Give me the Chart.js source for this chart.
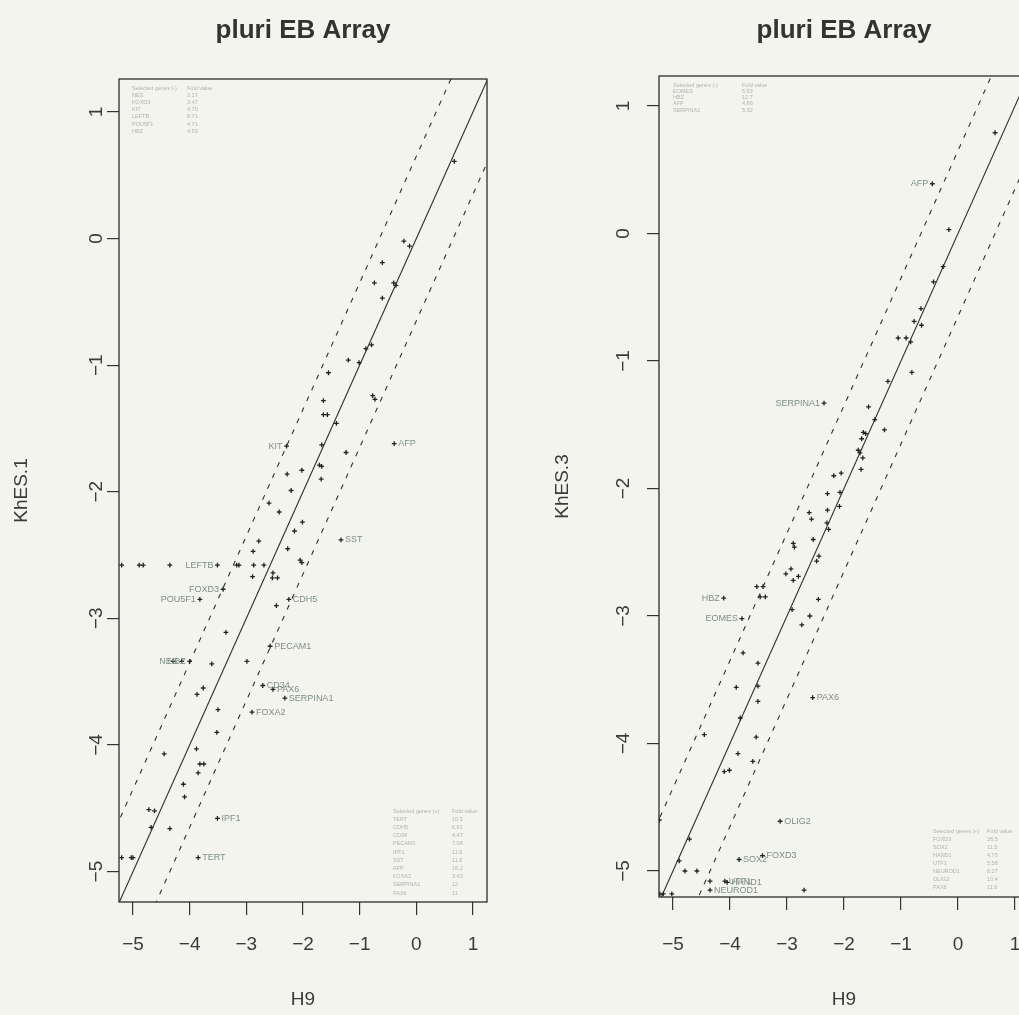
<!DOCTYPE html>
<html>
<head>
<meta charset="utf-8">
<script src="https://cdn.jsdelivr.net/npm/chart.js@4.4.0/dist/chart.umd.min.js"></script>
<style>
html, body { margin: 0; padding: 0; background: #f4f4ef; width: 1019px; height: 1015px; overflow: hidden; }
#left { position: absolute; left: 0; top: 0; }
#right { position: absolute; left: 510px; top: 0; }
</style>
</head>
<body>
<canvas id="left" width="510" height="1015"></canvas>
<canvas id="right" width="530" height="1015"></canvas>
<script>
const xTicks = [-5, -4, -3, -2, -1, 0, 1];
const yTicks = [-5, -4, -3, -2, -1, 0, 1];
const diagEnds = [-6, 2];
const foldBand = 0.65;

// left panel: KhES.1 against H9
const h9_1 = [0.67, -0.22, -0.12, -0.6, -0.74, -0.4, -0.36, -0.6, -0.79, -0.89, -1.2, -1.01, -1.55, -1.64,
  -0.77, -0.73, -1.64, -1.57, -1.41, -1.67, -1.24, -1.71, -1.67, -2.02, -2.28, -1.68, -2.21, -2.6, -2.42,
  -2.01, -2.15, -2.78, -2.88, -2.27, -2.05, -2.02, -5.2, -4.89, -4.82, -4.35, -3.17, -3.13, -2.87, -2.69,
  -2.89, -2.53, -2.54, -2.45, -2.47, -3.36, -2.99, -3.61, -4.29, -3.76, -3.87, -3.5, -3.52, -3.88, -4.45,
  -3.82, -3.75, -3.85, -4.11, -4.09, -4.72, -4.62, -4.35, -4.68, -5.2, -5.03, -5.0];
const khes1 = [0.61, -0.02, -0.06, -0.19, -0.35, -0.35, -0.37, -0.47, -0.84, -0.87, -0.96, -0.98, -1.06, -1.28,
  -1.24, -1.27, -1.39, -1.39, -1.46, -1.63, -1.69, -1.79, -1.8, -1.83, -1.86, -1.9, -1.99, -2.09, -2.16,
  -2.24, -2.31, -2.39, -2.47, -2.45, -2.54, -2.56, -2.58, -2.58, -2.58, -2.58, -2.58, -2.58, -2.58, -2.58,
  -2.67, -2.64, -2.68, -2.68, -2.9, -3.11, -3.34, -3.36, -3.34, -3.55, -3.6, -3.72, -3.9, -4.03, -4.07,
  -4.15, -4.15, -4.22, -4.31, -4.41, -4.51, -4.52, -4.66, -4.65, -4.89, -4.89, -4.89];
const genes1 = ['KIT', 'AFP', 'SST', 'LEFTB', 'FOXD3', 'POU5F1', 'CDH5', 'PECAM1', 'HBZ', 'NES', 'CD34',
  'PAX6', 'SERPINA1', 'FOXA2', 'IPF1', 'TERT'];
const geneH9_1 = [-2.29, -0.39, -1.33, -3.51, -3.41, -3.82, -2.25, -2.58, -4.0, -4.14, -2.71, -2.53, -2.32, -2.9, -3.51, -3.85];
const geneKhes1 = [-1.64, -1.62, -2.38, -2.58, -2.77, -2.85, -2.85, -3.22, -3.34, -3.34, -3.53, -3.56, -3.63, -3.74, -4.58, -4.89];
const geneSide1 = ['l', 'r', 'r', 'l', 'l', 'l', 'r', 'r', 'l', 'l', 'r', 'r', 'r', 'r', 'r', 'r'];
const tableTop1 = ['NES', 'FOXD3', 'KIT', 'LEFTB', 'POU5F1', 'HBZ'];
const tableTopVal1 = ['3.17', '3.47', '4.70', '8.71', '4.71', '4.59'];
const tableBot1 = ['TERT', 'CDH5', 'CD34', 'PECAM1', 'IPF1', 'SST', 'AFP', 'FOXA2', 'SERPINA1', 'PAX6'];
const tableBotVal1 = ['10.5', '6.61', '4.47', '7.08', '11.9', '11.8', '16.2', '3.43', '12', '11'];

// right panel: KhES.3 against H9
const h9_3 = [0.65, -0.16, -0.26, -0.43, -0.65, -0.77, -0.64, -1.05, -0.91, -0.83, -0.81, -1.23, -1.57, -1.46,
  -1.29, -1.66, -1.62, -1.69, -1.75, -1.72, -1.67, -1.7, -2.18, -2.05, -2.29, -2.07, -2.08, -2.29, -2.61,
  -2.57, -2.3, -2.27, -2.54, -2.89, -2.87, -2.44, -2.48, -2.93, -3.02, -2.89, -2.8, -3.53, -3.42, -3.47,
  -3.38, -2.45, -2.91, -2.6, -2.74, -3.77, -3.51, -3.89, -3.51, -3.51, -3.82, -4.45, -3.54, -3.86, -3.6,
  -4.1, -4.01, -4.71, -4.89, -4.79, -4.58, -4.35, -2.7, -5.23, -5.17, -5.02, -5.24];
const khes3 = [0.79, 0.03, -0.26, -0.38, -0.59, -0.69, -0.72, -0.82, -0.82, -0.85, -1.09, -1.16, -1.36, -1.46,
  -1.54, -1.56, -1.57, -1.61, -1.7, -1.72, -1.76, -1.85, -1.9, -1.88, -2.04, -2.03, -2.14, -2.17, -2.19,
  -2.24, -2.27, -2.32, -2.4, -2.43, -2.46, -2.53, -2.57, -2.63, -2.67, -2.72, -2.69, -2.77, -2.77, -2.85,
  -2.85, -2.87, -2.95, -3.0, -3.07, -3.29, -3.37, -3.56, -3.55, -3.67, -3.8, -3.93, -3.95, -4.08, -4.14,
  -4.22, -4.21, -4.75, -4.92, -5.0, -5.0, -5.08, -5.15, -5.18, -5.18, -5.18, -4.6];
const genes3 = ['AFP', 'SERPINA1', 'HBZ', 'EOMES', 'PAX6', 'OLIG2', 'SOX2', 'FOXD3', 'UTF1', 'HAND1', 'NEUROD1'];
const geneH9_3 = [-0.45, -2.35, -4.11, -3.79, -2.55, -3.12, -3.84, -3.43, -4.09, -4.05, -4.35];
const geneKhes3 = [0.39, -1.33, -2.86, -3.02, -3.64, -4.61, -4.91, -4.88, -5.08, -5.09, -5.15];
const geneSide3 = ['l', 'l', 'l', 'l', 'r', 'r', 'r', 'r', 'r', 'r', 'r'];
const tableTop3 = ['EOMES', 'HBZ', 'AFP', 'SERPINA1'];
const tableTopVal3 = ['5.93', '12.7', '4.86', '5.32'];
const tableBot3 = ['FOXD3', 'SOX2', 'HAND1', 'UTF1', 'NEUROD1', 'OLIG2', 'PAX6'];
const tableBotVal3 = ['26.5', '11.5', '4.75', '5.58', '6.27', '10.4', '11.6'];

Chart.defaults.font.family = '"Liberation Sans", Arial, sans-serif';

const fmt = v => (v < 0 ? '\u2212' + (-v) : String(v));

const paperPlugin = {
  id: 'paper',
  afterDatasetsDraw(chart, args, p) {
    const {ctx, chartArea: a, scales: {x, y}} = chart;
    ctx.save();
    ctx.strokeStyle = '#2b2b2b';
    ctx.lineWidth = 1.3;
    ctx.strokeRect(a.left, a.top, a.right - a.left, a.bottom - a.top);

    ctx.fillStyle = '#3a3a3a';
    ctx.font = '19px "Liberation Sans", Arial, sans-serif';
    ctx.textAlign = 'center';
    ctx.textBaseline = 'middle';
    xTicks.forEach(v => ctx.fillText(fmt(v), x.getPixelForValue(v), a.bottom + p.xLabelGap));
    ctx.textBaseline = 'alphabetic';
    yTicks.forEach(v => {
      ctx.save();
      ctx.translate(a.left - p.yLabelGap, y.getPixelForValue(v));
      ctx.rotate(-Math.PI / 2);
      ctx.fillText(fmt(v), 0, 0);
      ctx.restore();
    });

    // gene names beside their points
    ctx.fillStyle = '#7f8d87';
    ctx.font = '9px "Liberation Sans", Arial, sans-serif';
    ctx.textBaseline = 'middle';
    p.genes.forEach((g, i) => {
      const px = x.getPixelForValue(p.gx[i]);
      const py = y.getPixelForValue(p.gy[i]);
      if (p.side[i] === 'l') {
        ctx.textAlign = 'right';
        ctx.fillText(g, px - 4, py);
      } else {
        ctx.textAlign = 'left';
        ctx.fillText(g, px + 4, py);
      }
    });

    // small tables of selected genes
    ctx.fillStyle = '#adb5af';
    ctx.font = '5.5px "Liberation Sans", Arial, sans-serif';
    ctx.textAlign = 'left';
    const table = (t, x0, y0) => {
      ctx.fillText(t.head, x0, y0);
      ctx.fillText('Fold value', x0 + t.valDx, y0);
      t.names.forEach((n, i) => {
        ctx.fillText(n, x0, y0 + (i + 1) * t.step);
        ctx.fillText(t.vals[i], x0 + t.valDx, y0 + (i + 1) * t.step);
      });
    };
    table(p.top, a.left + p.top.dx, a.top + p.top.dy);
    table(p.bot, a.right + p.bot.dx, a.bottom + p.bot.dy);
    ctx.restore();
  }
};

const pts = (xs, ys) => xs.map((v, i) => ({x: v, y: ys[i]}));
const diag = c => diagEnds.map(v => ({x: v, y: v + c}));

const dotStyle = {
  pointStyle: 'cross', pointRadius: 2.4, pointBorderWidth: 1.3,
  pointBorderColor: '#222', pointBackgroundColor: '#222', showLine: false
};
const lineStyle = dash => ({
  showLine: true, pointRadius: 0, borderColor: '#2e2e2e', borderWidth: 1.1,
  borderDash: dash, clip: 0
});

function panel(id, p) {
  return new Chart(document.getElementById(id), {
    type: 'scatter',
    data: {
      datasets: [
        {data: pts(p.xs, p.ys), ...dotStyle},
        {data: pts(p.gx, p.gy), ...dotStyle},
        {data: diag(0), ...lineStyle([])},
        {data: diag(foldBand), ...lineStyle([5, 7])},
        {data: diag(-foldBand), ...lineStyle([5, 7])}
      ]
    },
    options: {
      responsive: false,
      animation: false,
      layout: {padding: {right: p.padRight}},
      plugins: {
        legend: {display: false},
        tooltip: {enabled: false},
        title: {
          display: true, text: 'pluri EB Array', fullSize: false, color: '#333',
          font: {size: 26, weight: 'bold'}, padding: {top: 15, bottom: p.titleBottom}
        },
        paper: p
      },
      scales: {
        x: {
          type: 'linear', min: p.xMin, max: p.xMax,
          afterBuildTicks: s => { s.ticks = xTicks.map(v => ({value: v})); },
          afterFit: s => { s.height = p.xAxisH; },
          ticks: {display: false},
          grid: {drawOnChartArea: false, tickLength: 13, color: '#333', lineWidth: 1.2},
          border: {display: false},
          title: {display: true, text: 'H9', color: '#3a3a3a', font: {size: 19}, padding: {top: 0, bottom: 4}}
        },
        y: {
          type: 'linear', min: p.yMin, max: p.yMax,
          afterBuildTicks: s => { s.ticks = yTicks.map(v => ({value: v})); },
          afterFit: s => { s.width = p.yAxisW; },
          ticks: {display: false},
          grid: {drawOnChartArea: false, tickLength: 12, color: '#333', lineWidth: 1.2},
          border: {display: false},
          title: {display: true, text: p.yTitle, color: '#3a3a3a', font: {size: 19}, padding: {top: p.yTitlePad, bottom: 0}}
        }
      }
    },
    plugins: [paperPlugin]
  });
}

panel('left', {
  xs: h9_1, ys: khes1, gx: geneH9_1, gy: geneKhes1, genes: genes1, side: geneSide1,
  xMin: -5.247, xMax: 1.247, yMin: -5.24, yMax: 1.26,
  yTitle: 'KhES.1', yTitlePad: 10.5, yAxisW: 119, xAxisH: 113, padRight: 23, titleBottom: 32.8,
  xLabelGap: 43, yLabelGap: 17,
  top: {head: 'Selected genes (-)', names: tableTop1, vals: tableTopVal1, dx: 13, dy: 9, valDx: 55, step: 7.2},
  bot: {head: 'Selected genes (+)', names: tableBot1, vals: tableBotVal1, dx: -94, dy: -91, valDx: 59, step: 8.2}
});

panel('right', {
  xs: h9_3, ys: khes3, gx: geneH9_3, gy: geneKhes3, genes: genes3, side: geneSide3,
  xMin: -5.245, xMax: 1.245, yMin: -5.204, yMax: 1.235,
  yTitle: 'KhES.3', yTitlePad: 41.5, yAxisW: 149, xAxisH: 118, padRight: 11, titleBottom: 29.8,
  xLabelGap: 48, yLabelGap: 30,
  top: {head: 'Selected genes (-)', names: tableTop3, vals: tableTopVal3, dx: 14, dy: 9, valDx: 69, step: 6.3},
  bot: {head: 'Selected genes (+)', names: tableBot3, vals: tableBotVal3, dx: -96, dy: -66, valDx: 54, step: 8}
});
</script>
</body>
</html>
